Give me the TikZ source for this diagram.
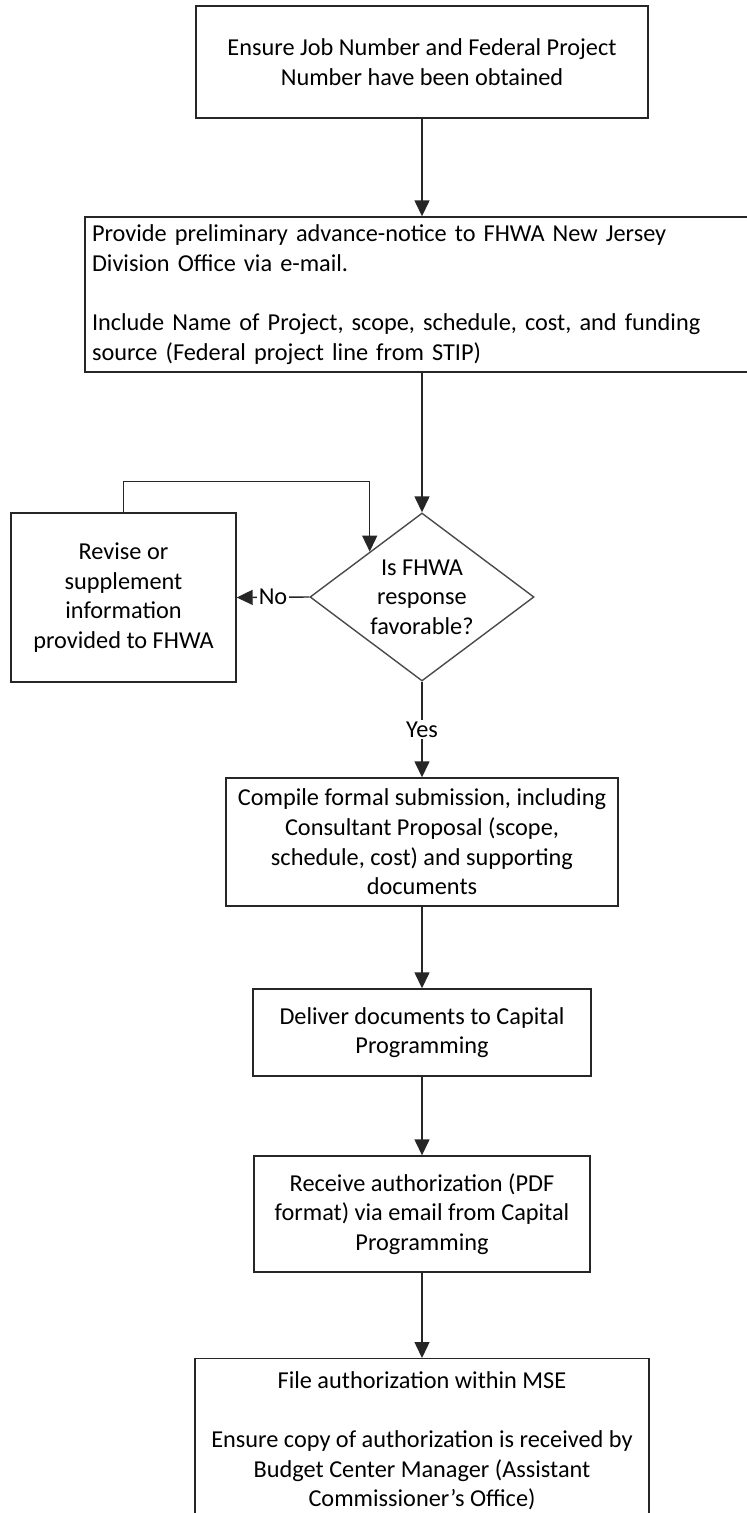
\documentclass[tikz,border=0pt]{standalone}
\usepackage{fontspec}
\setmainfont{Carlito}
\usetikzlibrary{arrows.meta,shapes.geometric,calc}
\tikzset{
  txt/.style={font=\fontsize{24.3}{29.7}\selectfont, text=black},
  box/.style={txt, draw=black!85, line width=1.4pt, align=center, inner sep=4pt},
  dec/.style={txt, diamond, draw=black!70, line width=1.4pt, align=center, inner sep=0pt, aspect=1.3333},
  conn/.style={draw=black!85, line width=1.4pt, -{Triangle[length=16pt,width=15pt]}},
  lbl/.style={txt, fill=white, inner sep=2pt}
}
\begin{document}
\begin{tikzpicture}[x=1pt,y=-1pt]
\clip (0,0) rectangle (747,1513);
\fill[white] (0,0) rectangle (747,1513);
\node[box, minimum width=452pt, minimum height=112pt] (top) at (422,62) {Ensure Job Number and Federal Project\\Number have been obtained};
\node[box, minimum width=675pt, minimum height=155pt, align=left, text width=661pt, inner xsep=7pt] (b2) at (422.5,294.5) {Provide preliminary advance-notice to FHWA New Jersey\\Division Office via e-mail.\\[29.7pt]Include Name of Project, scope, schedule, cost, and funding\\source (Federal project line from STIP)};
\node[dec, minimum width=224pt, minimum height=168pt] (d) at (422,597) {Is FHWA\\response\\favorable?};
\node[box, minimum width=225pt, minimum height=169pt] (rev) at (123.5,597.5) {Revise or\\supplement\\information\\provided to FHWA};
\node[box, minimum width=392pt, minimum height=128pt] (b3) at (422,842) {Compile formal submission, including\\Consultant Proposal (scope,\\schedule, cost) and supporting\\documents};
\node[box, minimum width=338pt, minimum height=87pt] (b4) at (422,1032.5) {Deliver documents to Capital\\Programming};
\node[box, minimum width=336pt, minimum height=116pt] (b5) at (422,1214) {Receive authorization (PDF\\format) via email from Capital\\Programming};
\node[box, minimum width=454pt, anchor=north, inner ysep=12.5pt] (b6) at (422,1358) {File authorization within MSE\\[29.7pt]Ensure copy of authorization is received by\\Budget Center Manager (Assistant\\Commissioner’s Office)};
\coordinate (loopL) at ([yshift=31pt]rev.north);
\coordinate (dedge) at ($(d.north)!0.464!(d.west)$);
\draw[conn] (top.south -| d.north) -- (b2.north -| d.north);
\draw[conn] (b2.south -| d.north) -- (d.north);
\draw[conn] (rev.north) -- (loopL) -| (dedge);
\draw[conn] (d.west) -- node[lbl]{No} (rev.east);
\draw[conn] (d.south) -- node[lbl]{Yes} (b3.north);
\draw[conn] (b3.south) -- (b4.north);
\draw[conn] (b4.south) -- (b5.north);
\draw[conn] (b5.south) -- (b6.north);
\end{tikzpicture}
\end{document}
